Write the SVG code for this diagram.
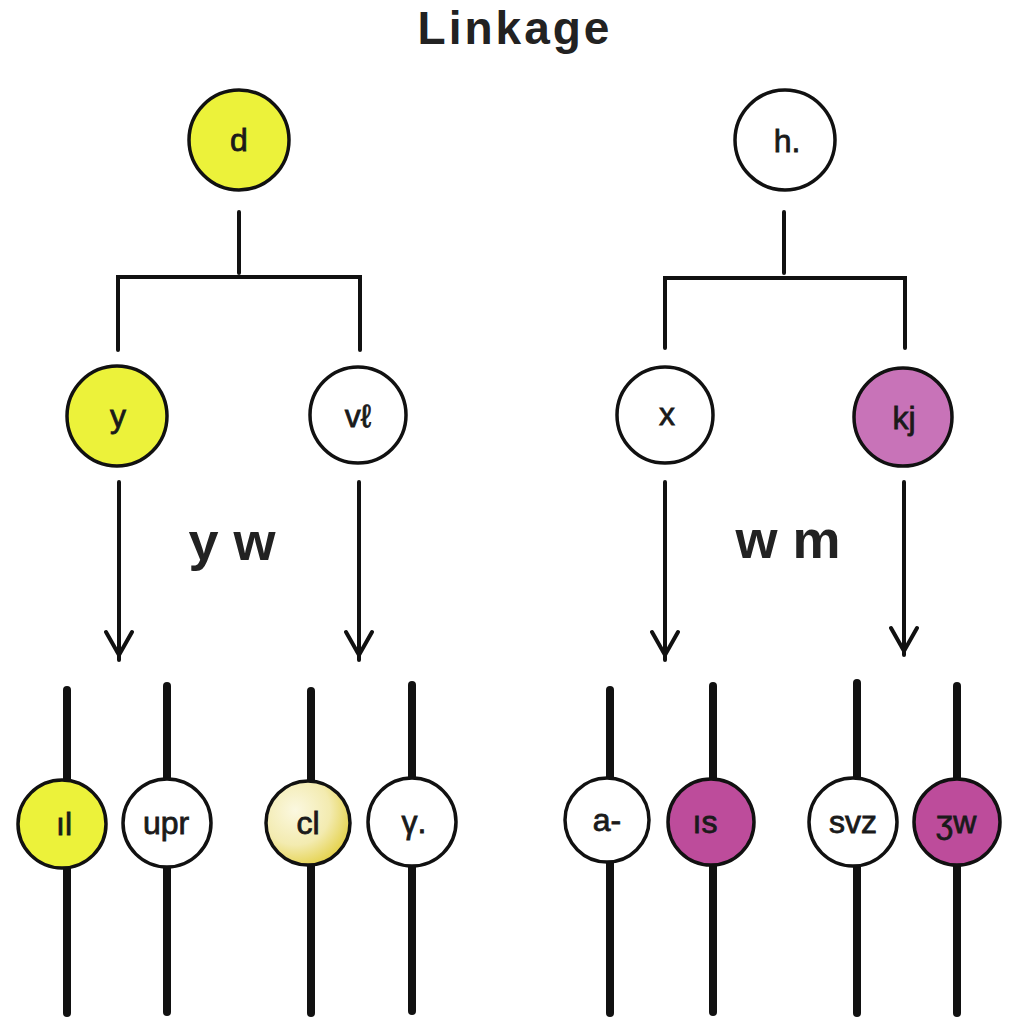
<svg xmlns="http://www.w3.org/2000/svg" width="1024" height="1024" viewBox="0 0 1024 1024">
<style>
.node{stroke:#111;stroke-width:3.5}
.yel{fill:#ecf23a}
.wht{fill:#ffffff}
.mag{fill:#c873b8}
.mag2{fill:#bd4c9b}
.lbl{font-family:"Liberation Sans",Arial,sans-serif;font-size:32px;fill:#1a1a1a;stroke:#1a1a1a;stroke-width:0.8;text-anchor:middle}
.tree{stroke:#111;stroke-width:4;fill:none;stroke-linecap:round}
.arr{stroke:#111;stroke-width:4;fill:none;stroke-linecap:round;stroke-linejoin:round}
.bar{stroke:#111;stroke-width:8;stroke-linecap:round}
.big{font-family:"Liberation Sans",Arial,sans-serif;font-weight:bold;fill:#222;text-anchor:middle}
</style>
<defs>
<radialGradient id="pale" cx="0.35" cy="0.35" r="0.75">
<stop offset="0" stop-color="#fbf8e0"/>
<stop offset="0.55" stop-color="#f3ebb0"/>
<stop offset="1" stop-color="#e2cd3a"/>
</radialGradient>
</defs>
<rect width="1024" height="1024" fill="#ffffff"/>
<text class="big" x="515" y="44" font-size="46" letter-spacing="3">Linkage</text>

<g id="connectors">
<path class="tree" d="M239 212V273M118 350V277H360V350"/>
<path class="tree" d="M784 212V273M665 348V278H905V348"/>
<path class="arr" d="M119 482V660M106 632L119 655L132 632"/>
<path class="arr" d="M359 482V660M346 632L359 655L372 632"/>
<path class="arr" d="M665 482V660M652 632L665 655L678 632"/>
<path class="arr" d="M904 482V655M891 628L904 651L917 628"/>
<line class="bar" x1="67" y1="690" x2="67" y2="1013"/>
<line class="bar" x1="167" y1="686" x2="167" y2="1012"/>
<line class="bar" x1="311" y1="691" x2="311" y2="1013"/>
<line class="bar" x1="412" y1="685" x2="412" y2="1011"/>
<line class="bar" x1="610" y1="690" x2="610" y2="1013"/>
<line class="bar" x1="713" y1="686" x2="713" y2="1012"/>
<line class="bar" x1="857" y1="683" x2="857" y2="1013"/>
<line class="bar" x1="957" y1="686" x2="957" y2="1013"/>
</g>

<text class="big" x="232" y="560" font-size="54">y w</text>
<text class="big" x="788" y="558" font-size="54">w m</text>

<g id="n-d"><circle class="node yel" cx="239" cy="140" r="50"/><text class="lbl" x="239" y="151">d</text></g>
<g id="n-h"><circle class="node wht" cx="785" cy="140" r="50"/><text class="lbl" x="787" y="152">h.</text></g>
<g id="n-y"><circle class="node yel" cx="117" cy="416" r="50"/><text class="lbl" x="118" y="427">y</text></g>
<g id="n-vl"><circle class="node wht" cx="358" cy="415" r="48"/><text class="lbl" x="358" y="427">vℓ</text></g>
<g id="n-x"><circle class="node wht" cx="665" cy="415" r="48"/><text class="lbl" x="667" y="425">x</text></g>
<g id="n-kj"><circle class="node mag" cx="903" cy="417" r="49"/><text class="lbl" x="904" y="429">kj</text></g>

<g id="b1"><circle class="node yel" cx="62" cy="824" r="44"/><text class="lbl" x="64" y="835">ıl</text></g>
<g id="b2"><circle class="node wht" cx="167" cy="823" r="44"/><text class="lbl" x="166" y="834">upr</text></g>
<g id="b3"><circle class="node" fill="url(#pale)" cx="308" cy="823" r="42"/><text class="lbl" x="308" y="834">cl</text></g>
<g id="b4"><circle class="node wht" cx="412" cy="822" r="44"/><text class="lbl" x="414" y="833">γ.</text></g>
<g id="b5"><circle class="node wht" cx="607" cy="820" r="42"/><text class="lbl" x="607" y="831">a-</text></g>
<g id="b6"><circle class="node mag2" cx="711" cy="822" r="43"/><text class="lbl" x="705" y="833">ıs</text></g>
<g id="b7"><circle class="node wht" cx="853" cy="822" r="44"/><text class="lbl" x="853" y="833">svz</text></g>
<g id="b8"><circle class="node mag2" cx="957" cy="822" r="43"/><text class="lbl" x="956" y="833">ʒw</text></g>
</svg>
